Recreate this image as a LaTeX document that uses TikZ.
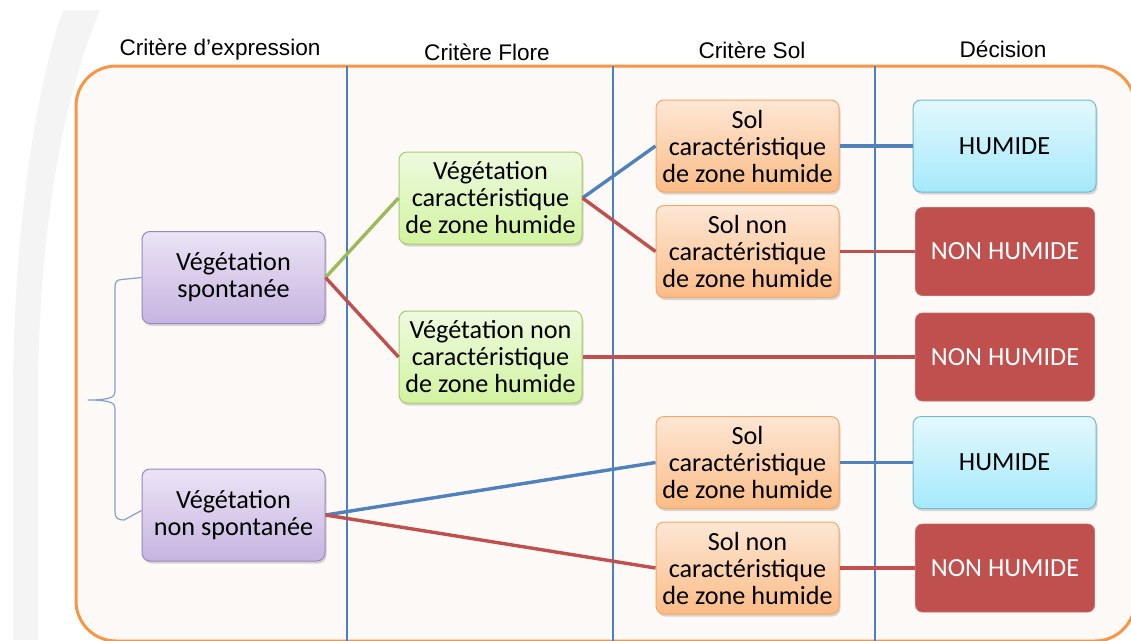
\documentclass[tikz,border=0pt]{standalone}
\usepackage{fontspec}
\setmainfont{Liberation Sans}
\newfontfamily\boxfont{Carlito}
\usetikzlibrary{shadows}
\definecolor{frameor}{HTML}{F79646}
\definecolor{bgin}{HTML}{FDF9F6}
\definecolor{sepblue}{HTML}{4A7FC9}
\definecolor{bracebl}{HTML}{7EA3D0}
\definecolor{purptop}{HTML}{EBE4F6}
\definecolor{purpbot}{HTML}{C6B4E0}
\definecolor{purpbd}{HTML}{9D85C0}
\definecolor{greentop}{HTML}{EEFADF}
\definecolor{greenbot}{HTML}{D2F3A0}
\definecolor{greenbd}{HTML}{A5CD6B}
\definecolor{ortop}{HTML}{FDE7D5}
\definecolor{orbot}{HTML}{FBBC86}
\definecolor{orbd}{HTML}{F7A868}
\definecolor{cyantop}{HTML}{E3F8FD}
\definecolor{cyanbot}{HTML}{A5E9FB}
\definecolor{cyanbd}{HTML}{6CBBD3}
\definecolor{redbox}{HTML}{C0504D}
\definecolor{lineblue}{HTML}{4F81BD}
\definecolor{linered}{HTML}{C0504D}
\definecolor{linegreen}{HTML}{9BBB59}
\begin{document}
\begin{tikzpicture}[x=1pt,y=-1pt,
  hdr/.style={font=\fontsize{22.6}{26}\selectfont, inner sep=0pt},
  box/.style={rounded corners=8pt, minimum width=183pt, minimum height=92pt,
    inner sep=1pt, align=center, font=\boxfont\fontsize{26.2}{27}\selectfont,
    line width=1pt, drop shadow={opacity=0.3, shadow xshift=1.5pt, shadow yshift=-2.5pt}},
  purplebox/.style={box, draw=purpbd, top color=purptop, bottom color=purpbot},
  greenbox/.style={box, draw=greenbd, top color=greentop, bottom color=greenbot},
  orbox/.style={box, draw=orbd, top color=ortop, bottom color=orbot},
  cyanbox/.style={box, draw=cyanbd, top color=cyantop, bottom color=cyanbot},
  redbx/.style={rounded corners=7pt, minimum width=179pt, minimum height=88pt,
    inner sep=1pt, align=center, font=\boxfont\fontsize{26.2}{27}\selectfont,
    fill=redbox, draw=redbox!85!white, line width=0.8pt, text=white},
  conn/.style={line width=3.4pt},
  sep/.style={sepblue, line width=1.3pt},
]
\clip (0,0) rectangle (1131,640);
\useasboundingbox (0,0) rectangle (1131,640);
\fill[white] (0,0) rectangle (1131,640);
% faint gray arc at left
\fill[gray!9] (63,10) .. controls (32,100) and (13,250) .. (13,400) -- (13,640)
  -- (38,640) -- (38,400) .. controls (38,250) and (58,110) .. (100,10) -- cycle;
% frame
\draw[frameor, line width=3pt, fill=bgin, rounded corners=40pt] (76,66) rectangle (1135,641);
% separators
\draw[sep] (347,66) -- (347,641);
\draw[sep] (613,66) -- (613,641);
\draw[sep] (875,66) -- (875,641);
% headers
\node[hdr] (t1) at (220,50) {Critère d’expression};
\node[hdr] (t2) at (487,52) {Critère Flore};
\node[hdr] (t3) at (752,50) {Critère Sol};
\node[hdr] (t4) at (1003,49) {Décision};
% nodes
\node[purplebox] (sp) at (233.5,277.5) {Végétation\\spontanée};
\node[purplebox] (nsp) at (233.5,515) {Végétation\\non spontanée};
\node[greenbox] (g1) at (490.5,198) {Végétation\\caractéristique\\de zone humide};
\node[greenbox] (g2) at (490.5,357) {Végétation non\\caractéristique\\de zone humide};
\node[orbox] (s1) at (747.5,146) {Sol\\caractéristique\\de zone humide};
\node[orbox] (s2) at (747.5,251.5) {Sol non\\caractéristique\\de zone humide};
\node[orbox] (s3) at (747.5,462.5) {Sol\\caractéristique\\de zone humide};
\node[orbox] (s4) at (747.5,568) {Sol non\\caractéristique\\de zone humide};
\node[cyanbox] (h1) at (1004.5,146) {HUMIDE};
\node[redbx] (n1) at (1005,251.5) {NON HUMIDE};
\node[redbx] (n2) at (1005,357) {NON HUMIDE};
\node[cyanbox] (h2) at (1004.5,462.5) {HUMIDE};
\node[redbx] (n3) at (1005,568) {NON HUMIDE};
% connectors
\draw[conn, linegreen] (sp.east) -- (g1.west);
\draw[conn, linered] (sp.east) -- (g2.west);
\draw[conn, lineblue] (g1.east) -- (s1.west);
\draw[conn, linered] (g1.east) -- (s2.west);
\draw[conn, lineblue] (s1.east) -- (h1.west);
\draw[conn, linered] (s2.east) -- (n1.west);
\draw[conn, linered] (g2.east) -- (n2.west);
\draw[conn, lineblue] (nsp.east) -- (s3.west);
\draw[conn, linered] (nsp.east) -- (s4.west);
\draw[conn, lineblue] (s3.east) -- (h2.west);
\draw[conn, linered] (s4.east) -- (n3.west);
% brace
\coordinate (tip) at (88,400);
\draw[bracebl, line width=1.2pt] (sp.west) -- (122,279.5)
  .. controls (117,279.5) and (115,282) .. (115,287) -- (115,392)
  .. controls (115,397) and (110,400) .. (tip)
  .. controls (110,400) and (115,403) .. (115,408) -- (115,512)
  .. controls (115,518) and (118,520) .. (124,520) -- ([yshift=4.5pt]nsp.west);
\end{tikzpicture}
\end{document}
